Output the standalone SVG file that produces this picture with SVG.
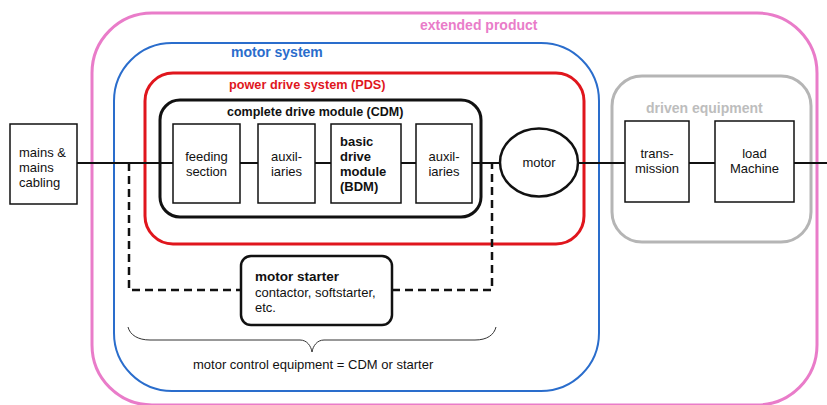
<svg xmlns="http://www.w3.org/2000/svg" width="827" height="405" viewBox="0 0 827 405">
  <style>
    text { font-family: "Liberation Sans", Arial, sans-serif; fill: #111; }
    .t { font-size: 13px; }
    .b { font-weight: bold; }
    .box { fill: #fff; stroke: #111; stroke-width: 1.5; }
    .frame { fill: none; }
    .wire { stroke: #111; stroke-width: 2; fill: none; }
    .dash { stroke: #111; stroke-width: 2.5; fill: none; stroke-dasharray: 8 5; }
  </style>

  <!-- enclosing regions -->
  <g id="extended-product">
    <rect class="frame" x="92" y="13" width="725" height="392" rx="60" stroke="#e97cc9" stroke-width="3"/>
    <text class="b" x="420" y="30" font-size="14" style="fill:#e97cc9">extended product</text>
  </g>
  <g id="motor-system">
    <rect class="frame" x="114" y="43" width="485" height="348" rx="58" stroke="#2a6dcc" stroke-width="2"/>
    <text class="b" x="231" y="57" font-size="14" style="fill:#2a6dcc">motor system</text>
  </g>
  <g id="pds">
    <rect class="frame" x="145" y="73" width="439" height="171" rx="28" stroke="#e0161d" stroke-width="3"/>
    <text class="b" x="229" y="89" font-size="12.7" style="fill:#e0161d">power drive system (PDS)</text>
  </g>
  <g id="driven-equipment">
    <rect class="frame" x="612" y="76" width="199" height="166" rx="30" stroke="#b5b5b5" stroke-width="3"/>
    <text class="b" x="646" y="113" font-size="14" style="fill:#bdbdbd">driven equipment</text>
  </g>

  <!-- connectors -->
  <g id="connectors">
    <path class="wire" d="M77 163H173M240 163H258M315 163H331M401 163H416M472 163H500M578 163H625M689 163H715M794 163H827"/>
    <path class="dash" d="M129 163V290H241M392 290H492V163"/>
    <path d="M128 327C130 335 138 340 150 340H300C307 340 311 346 312 352C313 346 317 340 324 340H475C487 340 494 335 496 327" fill="none" stroke="#333" stroke-width="1"/>
  </g>

  <g id="cdm">
    <rect class="frame" x="160" y="100" width="321" height="117" rx="20" stroke="#111" stroke-width="3"/>
    <text class="b" x="227" y="116" font-size="12.5">complete drive module (CDM)</text>
  </g>

  <g id="mains">
    <rect class="box" x="10" y="124" width="67" height="80"/>
    <text class="t" x="19" y="157">mains &amp;</text>
    <text class="t" x="19" y="172">mains</text>
    <text class="t" x="19" y="187">cabling</text>
  </g>
  <g id="feeding-section">
    <rect class="box" x="173" y="124" width="67" height="79"/>
    <text class="t" x="206.5" y="161" text-anchor="middle">feeding</text>
    <text class="t" x="206.5" y="176" text-anchor="middle">section</text>
  </g>
  <g id="auxiliaries-1">
    <rect class="box" x="258" y="124" width="57" height="79"/>
    <text class="t" x="286.5" y="161" text-anchor="middle">auxil-</text>
    <text class="t" x="286.5" y="176" text-anchor="middle">iaries</text>
  </g>
  <g id="bdm">
    <rect class="box" x="331" y="124" width="70" height="79"/>
    <text class="t b" x="340" y="146">basic</text>
    <text class="t b" x="340" y="161">drive</text>
    <text class="t b" x="340" y="176">module</text>
    <text class="t b" x="340" y="191">(BDM)</text>
  </g>
  <g id="auxiliaries-2">
    <rect class="box" x="416" y="124" width="56" height="79"/>
    <text class="t" x="444" y="161" text-anchor="middle">auxil-</text>
    <text class="t" x="444" y="176" text-anchor="middle">iaries</text>
  </g>
  <g id="motor">
    <ellipse cx="539" cy="162.5" rx="39" ry="34" fill="#fff" stroke="#111" stroke-width="2.5"/>
    <text class="t" x="539" y="167" text-anchor="middle" font-size="13.5">motor</text>
  </g>
  <g id="transmission">
    <rect class="box" x="625" y="121" width="64" height="81"/>
    <text class="t" x="657" y="158" text-anchor="middle">trans-</text>
    <text class="t" x="657" y="173" text-anchor="middle">mission</text>
  </g>
  <g id="load-machine">
    <rect class="box" x="715" y="121" width="79" height="81"/>
    <text class="t" x="754.5" y="158" text-anchor="middle">load</text>
    <text class="t" x="754.5" y="173" text-anchor="middle">Machine</text>
  </g>
  <g id="motor-starter">
    <rect x="241" y="256" width="151" height="69" rx="10" fill="#fff" stroke="#111" stroke-width="2.5"/>
    <text class="b" x="255" y="281" font-size="13.5">motor starter</text>
    <text class="t" x="255" y="297">contactor, softstarter,</text>
    <text class="t" x="255" y="312">etc.</text>
  </g>
  <g id="motor-control-label">
    <text class="t" x="193" y="369" font-size="11.7">motor control equipment = CDM or starter</text>
  </g>
</svg>
